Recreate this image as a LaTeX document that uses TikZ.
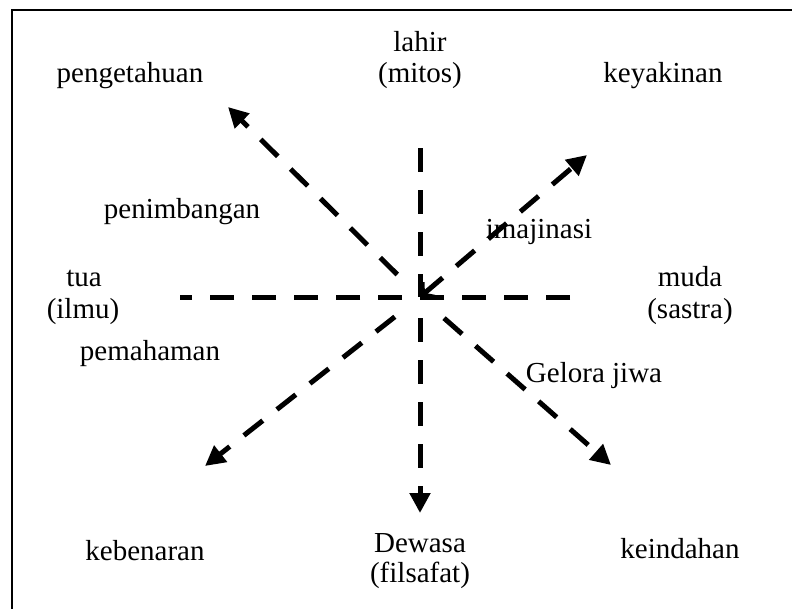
\documentclass[tikz,border=0pt]{standalone}
\usepackage{fontspec}
\setmainfont{Liberation Serif}
\usetikzlibrary{arrows.meta}
\begin{document}
\begin{tikzpicture}[x=1pt,y=-1pt,
  lbl/.style={anchor=base,inner sep=0pt,font=\fontsize{29}{32}\selectfont},
  dline/.style={line width=5pt,dash pattern=on 24pt off 18pt},
  arr/.style={dline,-{Triangle[length=20pt,width=20pt]}},
  frame/.style={line width=2pt}]
\useasboundingbox (0,0) rectangle (792,608);
\clip (0,0) rectangle (792,608);
\draw[frame] (12,10) rectangle (900,700);
% points
\coordinate (c) at (420,297);
\coordinate (top) at (420,148);
\coordinate (bot) at (420,513);
\coordinate (left) at (180,297);
\coordinate (right) at (570,297);
\coordinate (ne) at (587,155);
\coordinate (nw) at (228,107);
\coordinate (sw) at (205,466);
\coordinate (se) at (611,465);
% lines
\draw[dline] (top) -- (c);
\draw[arr,shorten <=21pt] (c) -- (bot);
\draw[dline] (right) -- (left);
\draw[arr,{Straight Barb[length=8pt,width=20pt]}-{Triangle[length=20pt,width=20pt]}] (c) -- (ne);
\draw[arr,shorten <=32pt] (c) -- (nw);
\draw[arr,shorten <=32pt] (c) -- (sw);
\draw[arr,shorten <=32pt] (c) -- (se);
% labels
\node[lbl] (lahir) at (420,51) {lahir};
\node[lbl] (mitos) at (420,82) {(mitos)};
\node[lbl] (peng) at (130,82) {pengetahuan};
\node[lbl] (keya) at (663,82) {keyakinan};
\node[lbl] (penim) at (182,218) {penimbangan};
\node[lbl] (imaj) at (539,238) {imajinasi};
\node[lbl] (tua) at (84,286) {tua};
\node[lbl] (ilmu) at (83,318) {(ilmu)};
\node[lbl] (muda) at (690,286) {muda};
\node[lbl] (sastra) at (690,318) {(sastra)};
\node[lbl] (pemah) at (150,360) {pemahaman};
\node[lbl] (gelora) at (594,382) {Gelora jiwa};
\node[lbl] (keben) at (145,560) {kebenaran};
\node[lbl] (dewasa) at (420,552) {Dewasa};
\node[lbl] (filsafat) at (420,582) {(filsafat)};
\node[lbl] (keind) at (680,558) {keindahan};
\end{tikzpicture}
\end{document}
